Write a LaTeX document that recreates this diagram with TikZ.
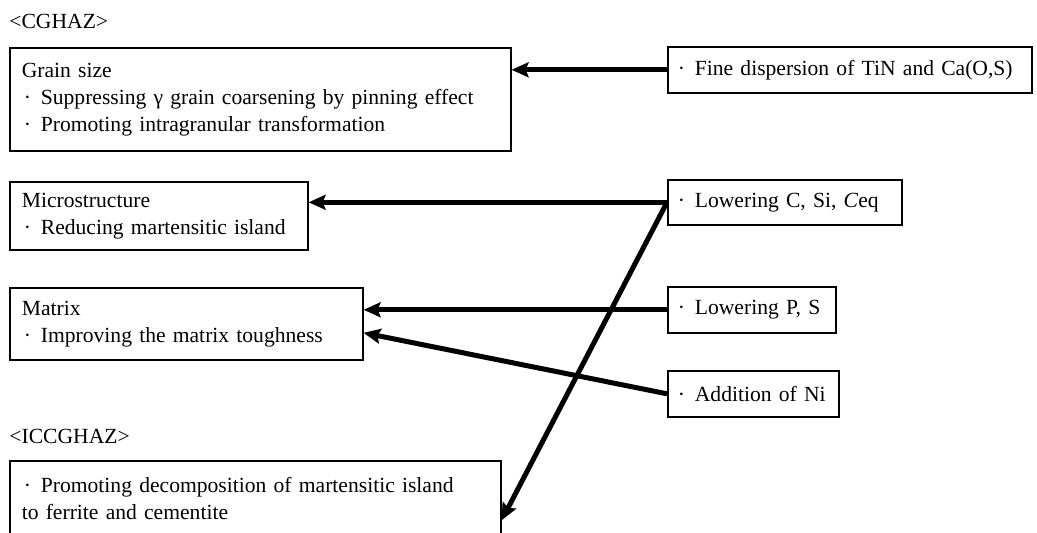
\documentclass[tikz,border=0pt]{standalone}
\usepackage{fontspec}
\setmainfont{Liberation Serif}
\usetikzlibrary{arrows.meta,positioning,calc}

\newcommand{\itm}{\hspace{0.1em}·\hspace{0.45em}}

\begin{document}
\begin{tikzpicture}[x=0.5pt, y=-0.5pt, >={Stealth[length=8.5pt, width=7.5pt, inset=1.5pt]},
	boxnode/.style={draw=black, line width=0.8pt, anchor=north west, align=left, inner xsep=6pt, inner ysep=0pt, font=\fontsize{10.8}{13.5}\selectfont},
	causenode/.style={boxnode, inner xsep=4pt},
	labelnode/.style={anchor=west, inner sep=0pt, font=\fontsize{10.8}{13.5}\selectfont},
	causeLine/.style={line width=2.5pt, -, color=black}
	]
	\useasboundingbox (0,0) rectangle (1037,532);

	\node (cghaz) [labelnode] at (9,21) {<CGHAZ>};
	\node (grain) [boxnode, text width=238.5pt, minimum height=51.5pt] at (9,47) {Grain size\\ \itm Suppressing γ grain coarsening by pinning effect\\ \itm Promoting intragranular transformation};
	\node (micro) [boxnode, text width=137pt, minimum height=34pt] at (9,181) {Microstructure\\ \itm Reducing martensitic island};
	\node (matrix) [boxnode, text width=164.5pt, minimum height=36pt] at (9,287) {Matrix\\ \itm Improving the matrix toughness};
	\node (iccghaz) [labelnode] at (9,436) {<ICCGHAZ>};
	\node (decomp) [boxnode, text width=233.5pt, minimum height=37.5pt] at (9,460) {\itm Promoting decomposition of martensitic island\\ to ferrite and cementite};

	\node (fine) [causenode, text width=174pt, minimum height=23pt] at (667,46) {\itm Fine dispersion of TiN and Ca(O,S)};
	\node (lowc) [causenode, text width=109pt, minimum height=22.5pt] at (667,179) {\itm Lowering C, Si, \textit{C}eq};
	\node (lowps) [causenode, text width=76pt, minimum height=23pt] at (667,286) {\itm Lowering P, S};
	\node (nickel) [causenode, text width=77.5pt, minimum height=23pt] at (667,370) {\itm Addition of Ni};

	\draw [causeLine, ->] (fine.west) -- (fine.west -| grain.east);
	\draw [causeLine, ->] (lowc.west) -- (lowc.west -| micro.east);
	\draw [causeLine, ->] (lowc.west) -- ([yshift=-11pt]decomp.east);
	\draw [causeLine, ->] (lowps.west) -- (lowps.west -| matrix.east);
	\draw [causeLine, ->] (nickel.west) -- ([yshift=-4.5pt]matrix.east);
\end{tikzpicture}
\end{document}
